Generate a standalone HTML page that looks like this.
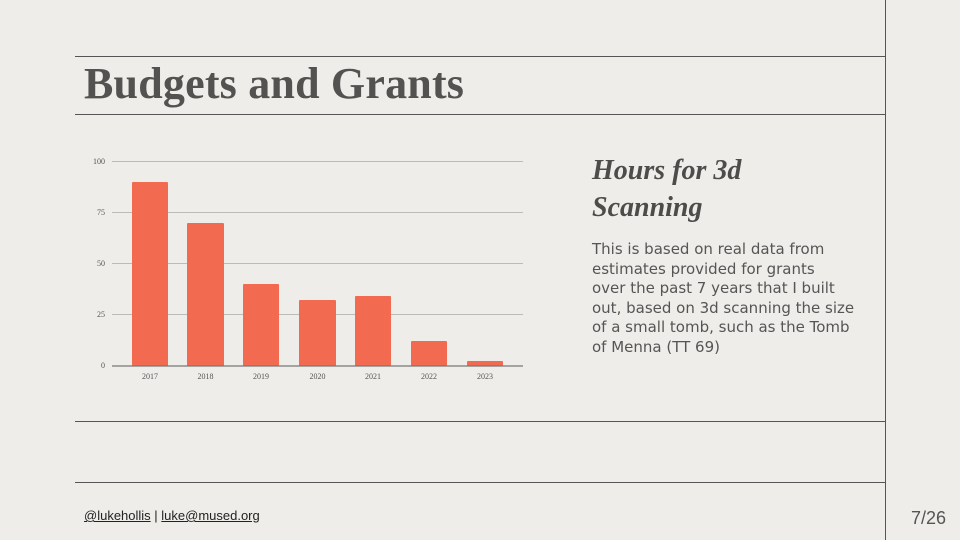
<!DOCTYPE html>
<html><head><style>
body{margin:0;width:960px;height:540px;background:#efedea;position:relative;overflow:hidden;font-family:"Liberation Sans",sans-serif}
.h{position:absolute;left:75px;width:810px;height:1px;background:#555}
.v{position:absolute;left:885px;top:0;width:1px;height:540px;background:#555}
.t{position:absolute;left:84px;top:58px;font-family:"Liberation Serif",serif;font-weight:bold;font-size:44px;color:#545250;letter-spacing:0.2px}
.st{position:absolute;left:592px;top:152px;font-family:"Liberation Serif",serif;font-weight:bold;font-style:italic;font-size:28px;line-height:37px;color:#4e4c4a}
.p{position:absolute;left:592px;top:240px;font-family:"DejaVu Sans",sans-serif;font-size:15px;line-height:19.5px;color:#555;white-space:nowrap}
.f{position:absolute;left:84px;top:508px;font-size:13px;color:#222}
.f u{text-decoration:underline}
.n{position:absolute;left:911px;top:508px;font-size:18px;color:#555}
</style></head><body>
<div class="v"></div>
<div class="h" style="top:56px"></div>
<div class="h" style="top:114px"></div>
<div class="h" style="top:421px"></div>
<div class="h" style="top:482px"></div>
<div class="t">Budgets and Grants</div>
<svg style="position:absolute;left:0;top:0" width="960" height="540">
<g stroke="#bbb" stroke-width="1">
<line x1="112" x2="523" y1="161.5" y2="161.5"/><line x1="112" x2="523" y1="212.5" y2="212.5"/>
<line x1="112" x2="523" y1="263.5" y2="263.5"/><line x1="112" x2="523" y1="314.5" y2="314.5"/>
</g>
<g fill="#f26b50">
<rect x="132" y="182" width="36" height="184" rx="1"/>
<rect x="187" y="223" width="37" height="143" rx="1"/>
<rect x="243" y="284" width="36" height="82" rx="1"/>
<rect x="299" y="300" width="37" height="66" rx="1"/>
<rect x="355" y="296" width="36" height="70" rx="1"/>
<rect x="411" y="341" width="36" height="25" rx="1"/>
<rect x="467" y="361" width="36" height="5" rx="1"/>
</g>
<line x1="112" x2="523" y1="366" y2="366" stroke="#777" stroke-width="1.2"/>
<g font-family="Liberation Serif,serif" font-size="8" fill="#555" text-anchor="end">
<text x="105" y="164">100</text><text x="105" y="215">75</text><text x="105" y="266">50</text><text x="105" y="317">25</text><text x="105" y="368">0</text>
</g>
<g font-family="Liberation Serif,serif" font-size="8" fill="#555" text-anchor="middle">
<text x="150" y="379">2017</text><text x="205.5" y="379">2018</text><text x="261" y="379">2019</text><text x="317.5" y="379">2020</text><text x="373" y="379">2021</text><text x="429" y="379">2022</text><text x="485" y="379">2023</text>
</g>
</svg>
<div class="st">Hours for 3d<br>Scanning</div>
<div class="p">This is based on real data from<br>estimates provided for grants<br>over the past 7 years that I built<br>out, based on 3d scanning the size<br>of a small tomb, such as the Tomb<br>of Menna (TT 69)</div>
<div class="f"><u>@lukehollis</u> | <u>luke@mused.org</u></div>
<div class="n">7/26</div>
</body></html>
